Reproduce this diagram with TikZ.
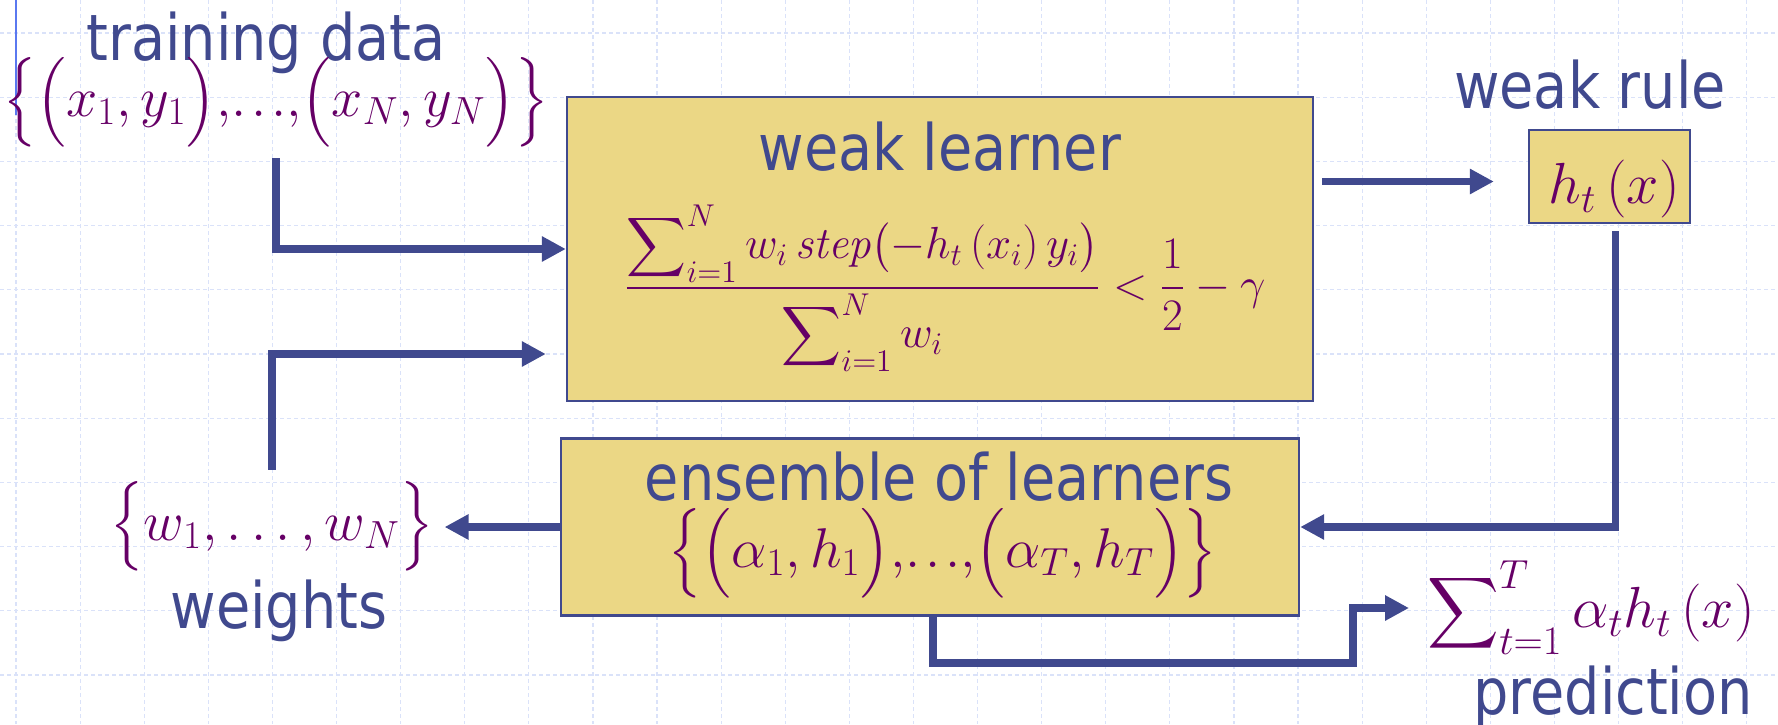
\RequirePackage{fix-cm}
\documentclass[tikz,border=0pt]{standalone}
\usepackage{amsmath}
\usepackage{fontspec}
\usetikzlibrary{arrows.meta,positioning,calc}
\newfontfamily\slidefont[FakeStretch=0.87]{DejaVu Sans}
\definecolor{slideblue}{RGB}{64,73,142}
\definecolor{mathpurple}{RGB}{102,0,102}
\definecolor{boxyellow}{RGB}{235,215,133}
\definecolor{gridblue}{RGB}{218,226,249}
\definecolor{cursorblue}{RGB}{90,120,240}
\tikzset{
  blk/.style={rectangle, draw=slideblue, line width=1.2pt, fill=boxyellow, inner sep=0pt},
  lbl/.style={text=slideblue, font=\slidefont\fontsize{32}{36}\selectfont, inner sep=0pt,
              text depth=0pt, anchor=base},
  mth/.style={text=mathpurple, font=\fontsize{#1}{#1}\selectfont, inner sep=0pt},
  arr/.style={-{Triangle[length=12pt,width=12pt]}, line width=3.6pt, draw=slideblue},
  gridln/.style={draw=gridblue, line width=0.6pt, dash pattern=on 2pt off 1.5pt},
}
\newcommand{\tightdots}{{,}{.}\mkern1.5mu{.}\mkern1.5mu{.}{,}}

\begin{document}
\begin{tikzpicture}[x=0.5pt,y=-0.5pt]
    \useasboundingbox (0,0) rectangle (1778,724);
    % slide grid
    \foreach \gx in {0,...,27} \draw[gridln] (16+64.1*\gx,0) -- (16+64.1*\gx,724);
    \foreach \gy in {0,...,10} \draw[gridln] (0,33+64.2*\gy) -- (1778,33+64.2*\gy);
    \draw[cursorblue, line width=0.8pt] (16,0) -- (16,115);

    % boxes
    \node[blk, minimum width=373pt, minimum height=152pt] (wl) at (940,249) {};
    \node[blk, minimum width=80.5pt, minimum height=46.5pt] (rule) at (1609.5,176.5) {};
    \node[blk, minimum width=369pt, minimum height=88.5pt] (ens) at (930,527) {};

    % texts
    \node[lbl] (wltitle) at (940,170) {weak learner};
    \node[mth=22.5] (crit) at (945,288)
      {$\dfrac{\displaystyle\sum\nolimits_{i=1}^{N} w_i\,\mathit{step}\bigl(-h_t\,(x_i)\,y_i\bigr)}{\displaystyle\sum\nolimits_{i=1}^{N} w_i}<\dfrac{1}{2}-\gamma$};
    \node[mth=29] (ht) at (1614,189) {$h_t\,(x)$};
    \node[lbl] (rulelbl) at (1590,108) {weak rule};
    \node[lbl] (enstitle) at (939,500) {ensemble of learners};
    \node[mth=28] (ensset) at (943,553)
      {$\bigl\{\bigl(\alpha_1,h_1\bigr)\tightdots\bigl(\alpha_T,h_T\bigr)\bigr\}$};
    \node[lbl] (datalbl) at (266,60) {training data};
    \node[mth=28] (data) at (276,102)
      {$\bigl\{\bigl(x_1,y_1\bigr)\tightdots\bigl(x_N,y_N\bigr)\bigr\}$};
    \node[mth=28] (wset) at (272,526) {$\bigl\{w_1,\ldots,w_N\bigr\}$};
    \node[lbl] (wlbl) at (279,628) {weights};
    \node[mth=29, anchor=west] (pred) at (1427,608)
      {$\displaystyle\sum\nolimits_{t=1}^{T}\alpha_t h_t\,(x)$};
    \node[lbl] (predlbl) at (1613,714) {prediction};

    % connectors
    \draw[arr, shorten <=5.5pt] (data.south) |- (wl.west);
    \draw[arr, shorten <=5.5pt] (wset.north) |- ($(wl.west)+(-20,105)$);
    \draw[arr] ($(wl.east |- rule.west)+(8,5)$) -- ($(rule.west)+(-34,5)$);
    \draw[arr] ($(rule.south)+(6,7)$) |- (ens.east);
    \draw[arr, shorten >=5.5pt] (ens.west) -- (ens.west -| wset.east);
    \draw[arr, shorten >=9pt] ($(ens.south)+(3,0)$) |- ($(pred.west)+(-74,55)$) |- (pred.west);
\end{tikzpicture}
\end{document}
